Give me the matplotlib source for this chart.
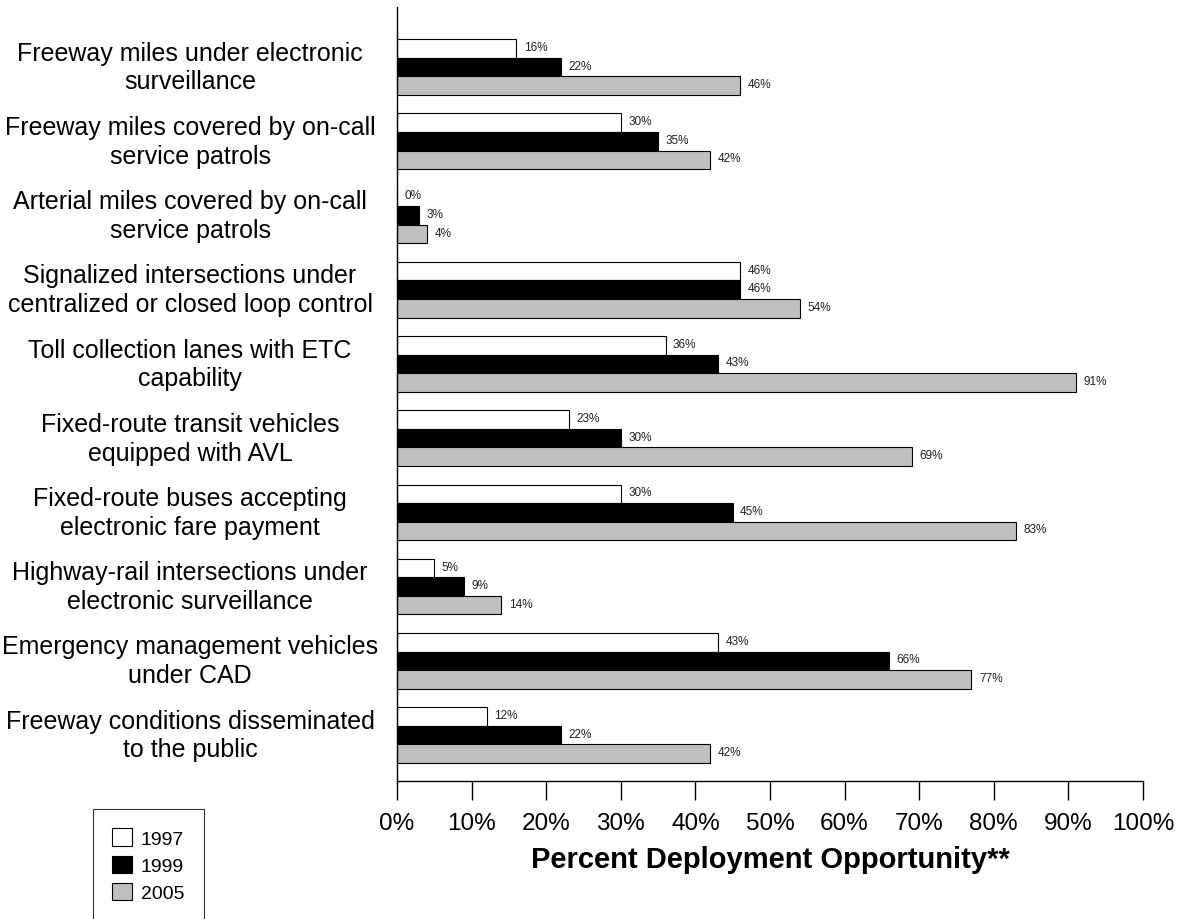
import matplotlib
matplotlib.use("Agg")
import matplotlib.pyplot as plt
import matplotlib.transforms as mtransforms
from matplotlib.patches import Patch

plt.rcParams['font.family'] = ['Liberation Sans', 'DejaVu Sans']

categories = [
    "Freeway miles under electronic\nsurveillance",
    "Freeway miles covered by on-call\nservice patrols",
    "Arterial miles covered by on-call\nservice patrols",
    "Signalized intersections under\ncentralized or closed loop control",
    "Toll collection lanes with ETC\ncapability",
    "Fixed-route transit vehicles\nequipped with AVL",
    "Fixed-route buses accepting\nelectronic fare payment",
    "Highway-rail intersections under\nelectronic surveillance",
    "Emergency management vehicles\nunder CAD",
    "Freeway conditions disseminated\nto the public",
]
years = ["1997", "1999", "2005"]
v1997 = [16, 30, 0, 46, 36, 23, 30, 5, 43, 12]
v1999 = [22, 35, 3, 46, 43, 30, 45, 9, 66, 22]
v2005 = [46, 42, 4, 54, 91, 69, 83, 14, 77, 42]
xticks = [0, 10, 20, 30, 40, 50, 60, 70, 80, 90, 100]
xticklabels = [f"{t}%" for t in xticks]
colors = ["white", "black", "#c0c0c0"]

W, H = 1179, 920
fig = plt.figure(figsize=(W / 100, H / 100), dpi=100)
ax = fig.add_axes([397 / W, 1 - 782 / H, (1143 - 397) / W, (782 - 8) / H])

bh = 0.25
series = [v1997, v1999, v2005]
offsets = [-bh, 0, bh]
for vals, col, off, yr in zip(series, colors, offsets, years):
    ys = [i + off for i in range(len(categories))]
    ax.barh(ys, vals, height=bh, color=col, edgecolor="black", linewidth=0.8, label=yr)
    for y, v in zip(ys, vals):
        ax.text(v + 1.0, y - 0.02, f"{v}%", fontsize=8.5, va="center", ha="left", color="#222222")

ax.set_xlim(0, 100)
ax.set_ylim(9.62, -0.81)
ax.set_yticks([])
ax.set_xticks(xticks)
ax.set_xticklabels(xticklabels, fontsize=17.5)
ax.tick_params(axis="x", direction="out", length=13.5, width=1.0, pad=9, colors="black")
for s in ["top", "right"]:
    ax.spines[s].set_visible(False)
ax.spines["left"].set_linewidth(1.0)
ax.spines["bottom"].set_linewidth(1.0)

trans = mtransforms.blended_transform_factory(fig.transFigure, ax.transData)
for i, c in enumerate(categories):
    ax.text(190 / W, i, c, transform=trans, ha="center", va="center",
            multialignment="center", fontsize=18, linespacing=1.25)

fig.text(770 / W, 1 - 860 / H, "Percent Deployment Opportunity**", ha="center", va="center",
         fontsize=21, fontweight="bold")

handles = [Patch(facecolor=c, edgecolor="black", linewidth=0.8) for c in colors]
leg = fig.legend(handles, years, loc="upper left", bbox_to_anchor=(93 / W, 1 - 810 / H),
                 fontsize=14, frameon=True, fancybox=False, edgecolor="black",
                 handlelength=1.0, handleheight=1.0, handletextpad=0.45,
                 labelspacing=0.4, borderpad=1.0, borderaxespad=0)
leg.get_frame().set_linewidth(0.8)

fig.savefig("out.png", dpi=100)
